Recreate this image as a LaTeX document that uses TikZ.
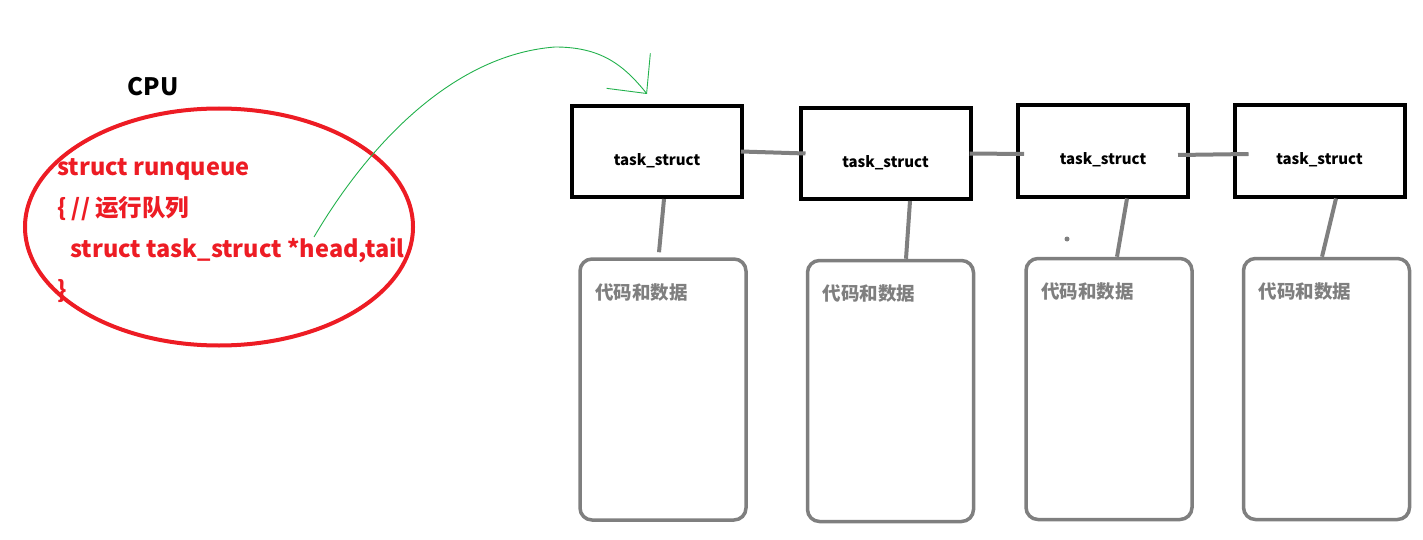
\documentclass[tikz,border=0pt]{standalone}
\usepackage{fontspec}
\setmainfont{Noto Sans CJK SC}
\usepackage{tikz}
\usetikzlibrary{shapes.geometric,arrows.meta,positioning}
\definecolor{rqred}{RGB}{237,28,36}
\definecolor{linkgray}{RGB}{127,127,127}
\definecolor{ptrgreen}{RGB}{34,177,76}

\begin{document}
\begin{tikzpicture}[
  x=1pt, y=-1pt,
  taskbox/.style={draw=black, line width=4pt, minimum width=170pt,
    minimum height=91pt, text height=40pt, text depth=12pt,
    font=\fontsize{15}{17}\selectfont\bfseries},
  databox/.style={draw=linkgray, line width=3.5pt, rounded corners=12pt,
    minimum width=166pt, minimum height=261pt},
  datalabel/.style={text=linkgray, font=\fontsize{18.5}{20}\selectfont\bfseries,
    inner sep=0pt},
  link/.style={draw=linkgray, line width=4pt},
  ptr/.style={draw=ptrgreen, line width=0.9pt},
  >={Straight Barb[length=29pt, width=56pt]},
  ]
  \useasboundingbox (0,0) rectangle (1423,540);

  % CPU et file d'execution
  \node[font=\fontsize{24}{26}\selectfont\bfseries] (cpu) at (153,87) {CPU};
  \node[draw=rqred, ellipse, line width=4pt, minimum width=388pt,
        minimum height=237pt] (rq) at (219,227) {};
  \node[anchor=north west, align=left, text=rqred, inner sep=0pt,
        font=\fontsize{23.5}{41}\selectfont\bfseries] (code) at (57,158)
    {struct runqueue\\
     \{ // 运行队列\\
     \hspace*{13pt}struct task\_struct *head,tail\\
     \}};

  % task_struct
  \node[taskbox] (t1) at (657,151.5) {task\_struct};
  \node[taskbox] (t2) at (885.5,153.5) {task\_struct};
  \node[taskbox] (t3) at (1103,151) {task\_struct};
  \node[taskbox] (t4) at (1319.5,151) {task\_struct};

  % code et donnees
  \node[databox] (d1) at (663,389.5) {};
  \node[databox] (d2) at (890.5,391) {};
  \node[databox] (d3) at (1109,389) {};
  \node[databox] (d4) at (1326.5,389) {};
  \node[datalabel, anchor=west] (l1) at ([shift={(17pt,-35pt)}]d1.north west) {代码和数据};
  \node[datalabel, anchor=west] (l2) at ([shift={(17pt,-35pt)}]d2.north west) {代码和数据};
  \node[datalabel, anchor=west] (l3) at ([shift={(17pt,-35pt)}]d3.north west) {代码和数据};
  \node[datalabel, anchor=west] (l4) at ([shift={(17pt,-35pt)}]d4.north west) {代码和数据};

  % Liens
  \draw[link] ([xshift=-3pt]t1.east) -- ([xshift=7pt]t2.west);
  \draw[link] ([xshift=-3pt]t2.east) -- ([xshift=8pt,yshift=-3pt]t3.west);
  \draw[link] ([xshift=-12pt,yshift=-4pt]t3.east) -- ([xshift=16pt,yshift=-3pt]t4.west);
  \draw[link] ([xshift=7pt]t1.south) -- ([xshift=-4pt,yshift=5pt]d1.north);
  \draw[link] ([xshift=24.5pt]t2.south) -- ([xshift=15.5pt]d2.north);
  \draw[link] ([xshift=24pt]t3.south) -- ([xshift=8pt]d3.north);
  \draw[link] ([xshift=16.5pt]t4.south) -- ([xshift=-4.5pt]d4.north);
  \fill[linkgray] (1067,239) circle (2.5pt);

  % Pointeur head
  \coordinate (headptr) at (314,237);
  \coordinate (tip) at ([xshift=-10pt,yshift=10pt]t1.north);
  \draw[ptr, ->] (headptr) .. controls (365,150) and (450,55) .. (555,47)
    .. controls (600,47) and (623,64) .. (tip);
\end{tikzpicture}
\end{document}
